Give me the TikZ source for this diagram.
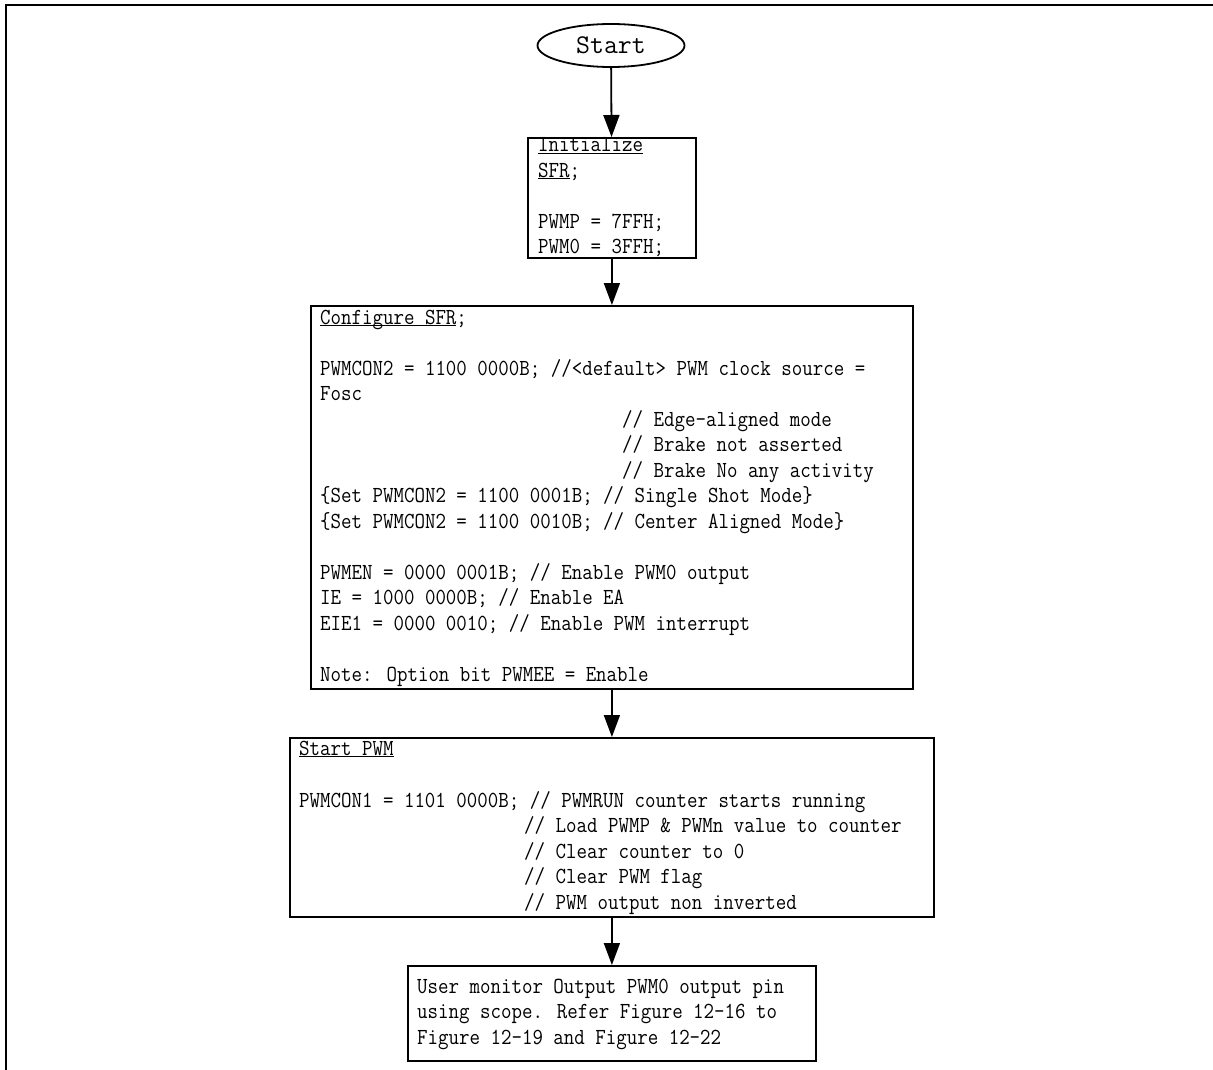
\documentclass[tikz,border=0pt]{standalone}
\usepackage{graphicx}
\usetikzlibrary{shapes.geometric,arrows.meta}
\newcommand\reftext[1]{\scalebox{0.885}[1]{\ttfamily\fontsize{23}{25.5}\selectfont #1}}
\newcommand\ulx[1]{\setbox0\hbox{#1}\rlap{\rule[-2.4pt]{\wd0}{1.1pt}}\box0}
\begin{document}
\begin{tikzpicture}[x=1pt,y=-1pt,
  box/.style={draw,line width=1.8pt,rectangle,inner sep=0pt,anchor=north west},
  txt/.style={anchor=base west,inner sep=0pt},
  conn/.style={line width=1.8pt,-{Triangle[length=22pt,width=16pt]}},
  frameline/.style={line width=2pt}]
\useasboundingbox (0,0) rectangle (1213,1070);
\draw[frameline] (6,1070) -- (6,5) -- (1213,5);

% shapes
\node[draw,ellipse,line width=1.8pt,minimum width=147pt,minimum height=43pt,inner sep=0pt,
      font=\ttfamily\fontsize{27}{28}\selectfont] (start) at (611,45.5) {Start};
\node[box,minimum width=168pt,minimum height=120pt] (init) at (527,137) {};
\node[box,minimum width=602pt,minimum height=383pt] (config) at (310,305) {};
\node[box,minimum width=644pt,minimum height=179pt] (run) at (289,737) {};
\node[box,minimum width=408pt,minimum height=95pt] (user) at (407,965) {};

% init text
\node[txt] (i1) at (538,152) {\reftext{\ulx{Initialize}}};
\node[txt] (i2) at (538,177) {\reftext{\ulx{SFR};}};
\node[txt] (i3) at (538,228) {\reftext{PWMP = 7FFH;}};
\node[txt] (i4) at (538,253) {\reftext{PWM0 = 3FFH;}};

% config text
\node[txt] (c1) at (320,324) {\reftext{\ulx{Configure SFR};}};
\node[txt] (c2) at (320,375) {\reftext{PWMCON2 = 1100 0000B; //<default> PWM clock source =}};
\node[txt] (c3) at (320,400) {\reftext{Fosc}};
\node[txt] (c4) at (622,426) {\reftext{// Edge-aligned mode}};
\node[txt] (c5) at (622,451) {\reftext{// Brake not asserted}};
\node[txt] (c6) at (622,477) {\reftext{// Brake No any activity}};
\node[txt] (c7) at (320,502) {\reftext{\{Set PWMCON2 = 1100 0001B; // Single Shot Mode\}}};
\node[txt] (c8) at (320,528) {\reftext{\{Set PWMCON2 = 1100 0010B; // Center Aligned Mode\}}};
\node[txt] (c9) at (320,579) {\reftext{PWMEN = 0000 0001B; // Enable PWM0 output}};
\node[txt] (c10) at (320,604) {\reftext{IE = 1000 0000B; // Enable EA}};
\node[txt] (c11) at (320,630) {\reftext{EIE1 = 0000 0010; // Enable PWM interrupt}};
\node[txt] (c12) at (320,681) {\reftext{Note: Option bit PWMEE = Enable}};

% start pwm text
\node[txt] (r1) at (299,755) {\reftext{\ulx{Start PWM}}};
\node[txt] (r2) at (299,807) {\reftext{PWMCON1 = 1101 0000B; // PWMRUN counter starts running}};
\node[txt] (r3) at (524,832) {\reftext{// Load PWMP \& PWMn value to counter}};
\node[txt] (r4) at (524,858) {\reftext{// Clear counter to 0}};
\node[txt] (r5) at (524,883) {\reftext{// Clear PWM flag}};
\node[txt] (r6) at (524,909) {\reftext{// PWM output non inverted}};

% user text
\node[txt] (u1) at (417,993) {\reftext{User monitor Output PWM0 output pin}};
\node[txt] (u2) at (417,1018) {\reftext{using scope. Refer Figure 12-16 to}};
\node[txt] (u3) at (417,1044) {\reftext{Figure 12-19 and Figure 12-22}};

% connectors (drawn last)
\draw[conn] (start) -- (init);
\draw[conn] (init) -- (config);
\draw[conn] (config) -- (run);
\draw[conn] (run) -- (user);
\end{tikzpicture}
\end{document}
